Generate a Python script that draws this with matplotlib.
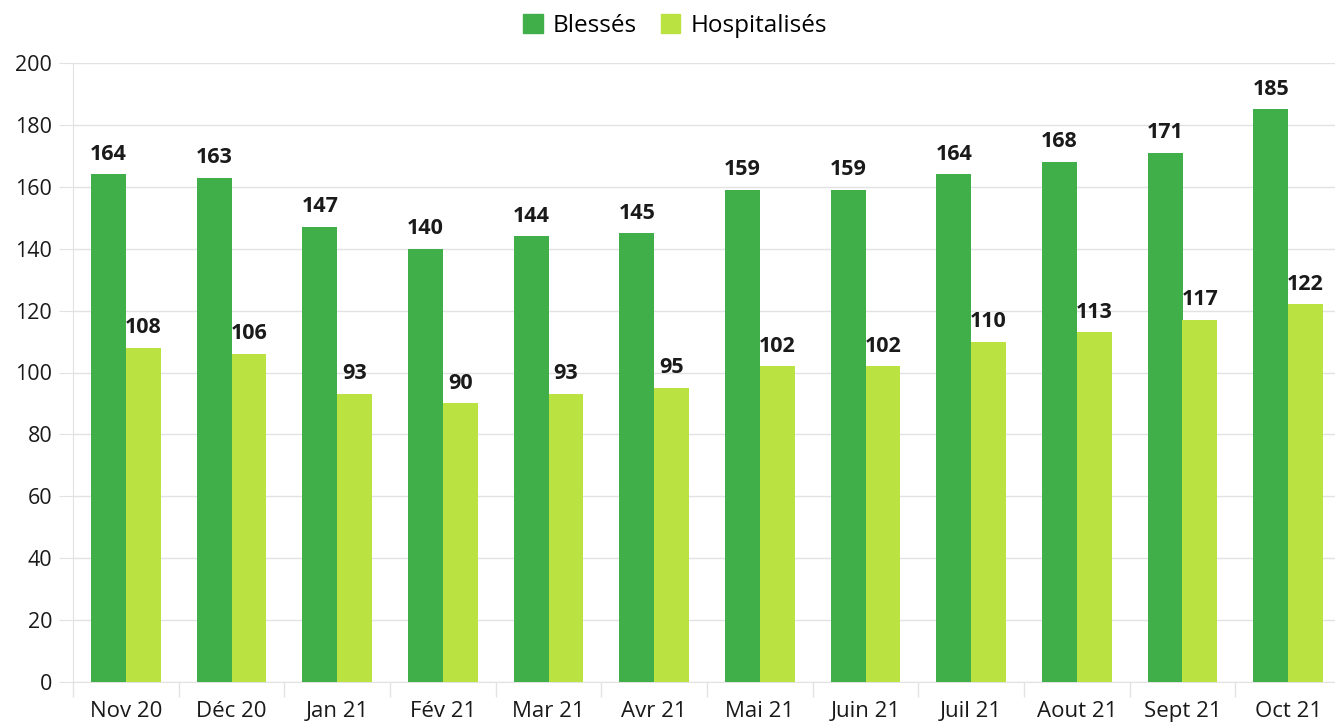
import numpy as np
import matplotlib.pyplot as plt
from matplotlib.patches import Patch

months = ["Nov 20", "Déc 20", "Jan 21", "Fév 21", "Mar 21", "Avr 21",
          "Mai 21", "Juin 21", "Juil 21", "Aout 21", "Sept 21", "Oct 21"]
blesses = [164, 163, 147, 140, 144, 145, 159, 159, 164, 168, 171, 185]
hospitalises = [108, 106, 93, 90, 93, 95, 102, 102, 110, 113, 117, 122]

green = "#41af49"
light = "#bae342"
grid_col = "#e2e2e2"

plt.rcParams['font.family'] = ['Open Sans', 'DejaVu Sans']

fig = plt.figure(figsize=(13.35, 7.24), dpi=100)
ax = fig.add_axes([73 / 1335, 42 / 724, 1268 / 1335, 619 / 724])

x = np.arange(len(months))
w = 0.33
b1 = ax.bar(x - w / 2, blesses, w, color=green, zorder=3)
b2 = ax.bar(x + w / 2, hospitalises, w, color=light, zorder=3)

for bars in (b1, b2):
    ax.bar_label(bars, padding=7, fontsize=15.5, fontweight='bold', color="#1a1a1a")

ax.set_ylim(0, 200)
ax.set_xlim(-0.5, len(months) - 0.5)
ax.set_yticks(range(0, 201, 20))
ax.tick_params(axis='y', length=10, color=grid_col, labelsize=15.5, pad=5, labelcolor="#1a1a1a")
ax.grid(axis='y', color=grid_col, linewidth=1, zorder=0)

# category labels centered, ticks at category boundaries
ax.set_xticks(x)
ax.set_xticklabels(months, fontsize=16, color="#1a1a1a")
ax.tick_params(axis='x', length=0, pad=14)
ax.set_xticks(np.arange(-0.5, len(months), 1), minor=True)
ax.tick_params(axis='x', which='minor', length=11, color=grid_col, width=1)

for s in ['top', 'right']:
    ax.spines[s].set_visible(False)
ax.spines['left'].set_color(grid_col)
ax.spines['bottom'].set_color(grid_col)

handles = [Patch(color=green, label="Blessés"), Patch(color=light, label="Hospitalisés")]
fig.legend(handles=handles, loc='center', bbox_to_anchor=(675 / 1335, 1 - 26 / 724),
           ncol=2, frameon=False, fontsize=17.5, handlelength=0.8, handleheight=0.8,
           columnspacing=1.0, handletextpad=0.4)

fig.savefig("out.png", dpi=100)
